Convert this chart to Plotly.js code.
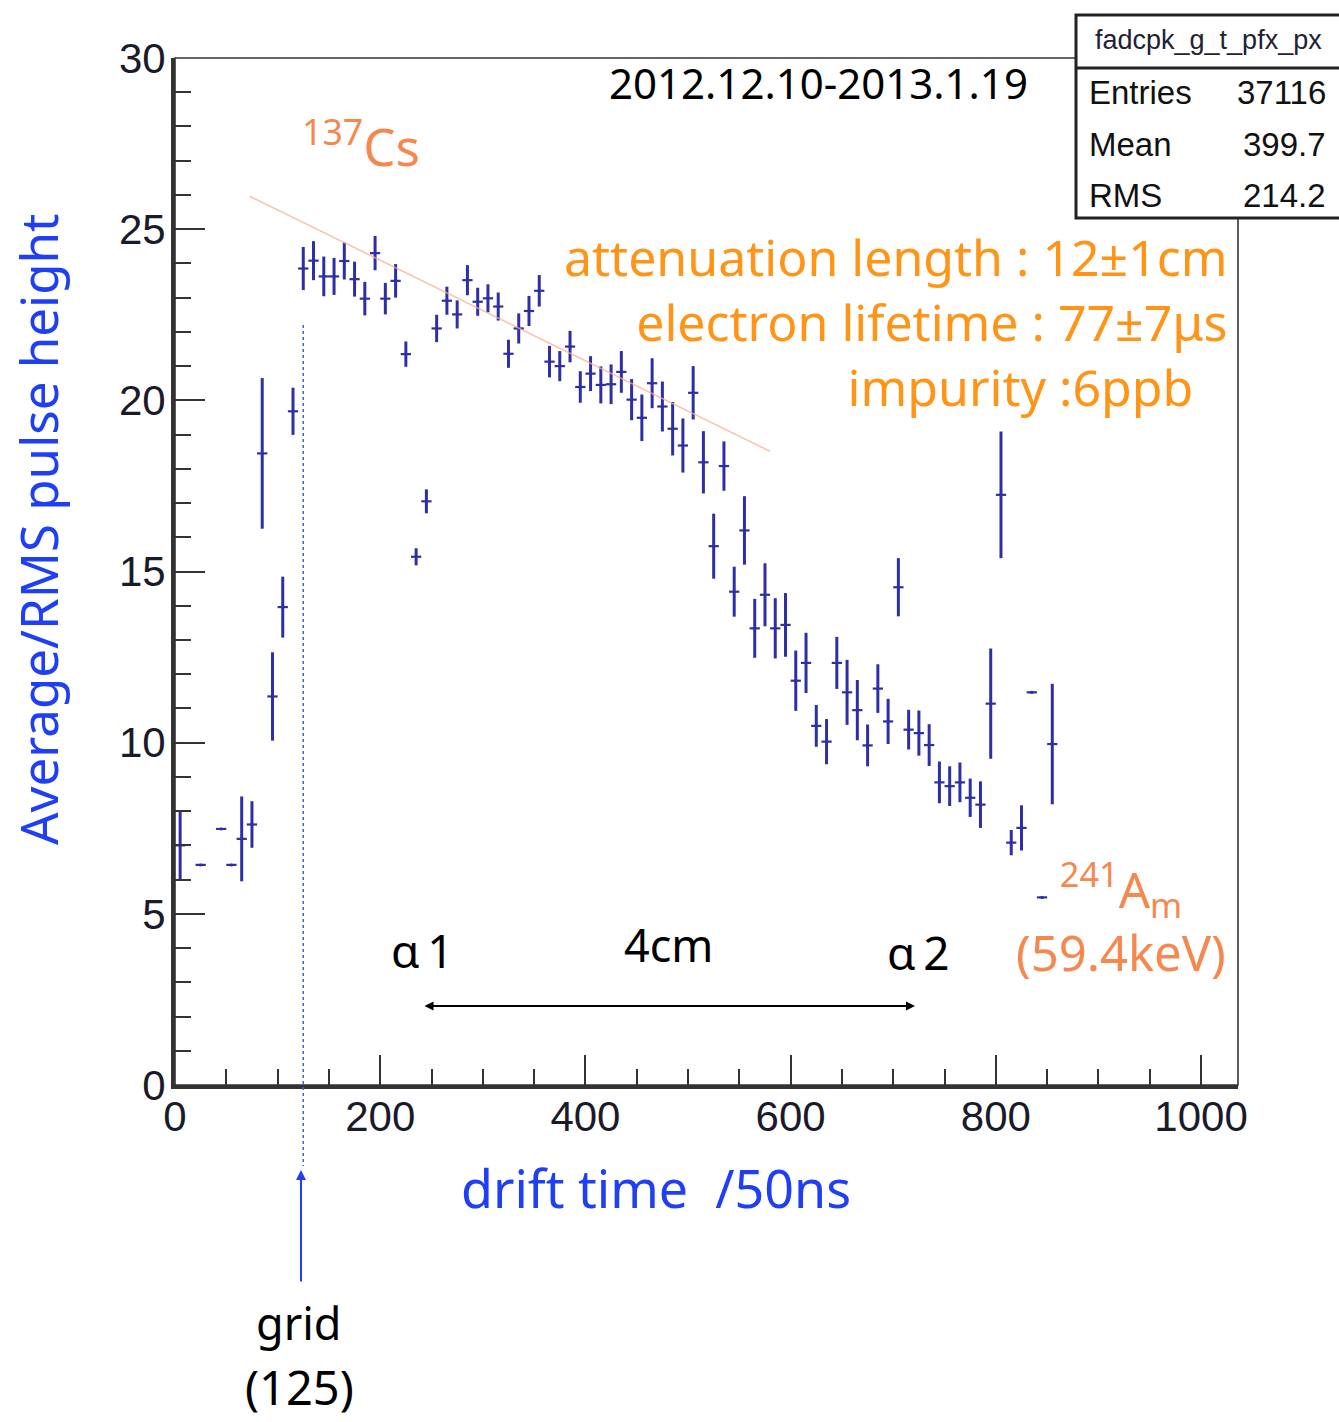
<!DOCTYPE html>
<html>
<head>
<meta charset="utf-8">
<script src="https://cdn.plot.ly/plotly-3.0.1.min.js"></script>
<style>html,body{margin:0;padding:0;background:#fff;}#chart{width:1339px;height:1422px;}</style>
</head>
<body>
<div id="chart"></div>
<script>
// ---- data ----
const driftTime = [5,25,45,55,65,75,85,95,105,115,125,135,145,155,165,175,185,195,205,215,225,235,245,255,265,275,285,295,305,315,325,335,345,355,365,375,385,395,405,415,425,435,445,455,465,475,485,495,505,515,525,535,545,555,565,575,585,595,605,615,625,635,645,655,665,675,685,695,705,715,725,735,745,755,765,775,785,795,805,815,825,835,845,855];
const pulseHeight = [7.0,6.43,7.48,6.43,7.19,7.61,18.45,11.35,13.96,19.68,23.85,24.08,23.62,23.62,24.07,23.54,22.97,24.30,22.97,23.49,21.35,15.43,17.05,22.10,22.91,22.51,23.51,22.88,22.98,22.74,21.36,22.10,22.61,23.20,21.13,21.00,21.57,20.39,20.78,20.45,20.47,20.83,20.02,19.49,20.50,19.82,19.17,18.68,20.22,18.19,15.74,18.08,14.41,16.20,13.34,14.32,13.34,13.44,11.81,12.33,10.49,10.03,12.33,11.47,10.95,9.92,11.58,10.62,14.54,10.38,10.28,9.93,8.84,8.73,8.84,8.39,8.19,11.14,17.24,7.08,7.51,11.47,5.48,9.96];
const pulseError = [1.0,0.03,0.03,0.03,1.24,0.68,2.2,1.29,0.89,0.69,0.63,0.57,0.58,0.54,0.54,0.51,0.49,0.50,0.46,0.49,0.37,0.25,0.35,0.40,0.41,0.41,0.44,0.41,0.41,0.41,0.41,0.44,0.44,0.46,0.46,0.44,0.46,0.46,0.51,0.54,0.58,0.61,0.60,0.68,0.73,0.73,0.78,0.79,0.78,0.91,0.95,0.72,0.73,1.0,0.86,0.92,0.88,0.93,0.88,0.88,0.61,0.66,0.76,0.95,0.88,0.61,0.71,0.66,0.85,0.58,0.66,0.61,0.61,0.58,0.58,0.56,0.68,1.61,1.85,0.37,0.66,0.03,0.03,1.76];
const binHalfWidth = 5;
const fitX = [73, 580];
const fitY = [25.96, 18.51];
const gridPosition = 125;
const statLabels = ["Entries", "Mean", "RMS"];
const statValues = ["37116", "399.7", "214.2"];
const histName = "fadcpk_g_t_pfx_px";

// ---- geometry helpers (pixel -> paper) ----
const L = 175, R = 1238, T = 58, B = 1085;
const px = x => (x - L) / (R - L);
const py = y => (B - y) / (B - T);

const dark = '#2e2ea6';
const orange = '#ff9416';
const coral = '#f5884e';
const blue = '#1f3ff5';
const sans = '"Noto Sans", "Open Sans", sans-serif';
const helv = '"Liberation Sans", Arial, sans-serif';

const traces = [
  {
    type: 'scatter', mode: 'markers',
    x: driftTime, y: pulseHeight,
    marker: {color: dark, size: 3},
    error_y: {type: 'data', array: pulseError, visible: true, color: dark, thickness: 3, width: 0},
    error_x: {type: 'constant', value: binHalfWidth, visible: true, color: dark, thickness: 2.2, width: 0},
    hoverinfo: 'x+y', showlegend: false
  },
  {
    type: 'scatter', mode: 'lines', x: fitX, y: fitY,
    line: {color: 'rgba(246,176,146,0.75)', width: 1.6},
    hoverinfo: 'skip', showlegend: false
  }
];

const annotations = [];
function txt(text, x, y, opt) {
  annotations.push(Object.assign({
    xref: 'paper', yref: 'paper', x: px(x), y: py(y), text: text,
    showarrow: false, xanchor: 'center', yanchor: 'middle',
    font: {family: sans, size: 46, color: '#000'}
  }, opt || {}));
}
txt('2012.12.10-2013.1.19', 818, 82, {font: {family: sans, size: 42, color: '#000'}});
txt('<sup>137</sup>Cs', 300, 144, {xanchor: 'left', font: {family: sans, size: 51, color: coral}});
txt('attenuation length : 12±1cm<br>electron lifetime : 77±7μs<br>impurity :6ppb\u00a0\u00a0\u2009', 1230, 322,
    {xanchor: 'right', align: 'right', font: {family: sans, size: 50, color: orange}});
txt('α\u20091', 422, 950, {font: {family: sans, size: 46, color: '#000'}});
txt('4cm', 668, 944, {font: {family: sans, size: 45, color: '#000'}});
txt('α\u20092', 918, 952, {font: {family: sans, size: 46, color: '#000'}});
txt('<sup>241</sup>A<sub>m</sub><br>(59.4keV)', 1121, 917, {align: 'center', font: {family: sans, size: 49, color: coral}});
txt('grid', 299, 1322, {font: {family: sans, size: 45, color: '#000'}});
txt('(125)', 299, 1387, {font: {family: sans, size: 47, color: '#000'}});
txt('Average/RMS pulse height', 38, 530, {textangle: -90, font: {family: sans, size: 51, color: blue}});
txt('drift time\u00a0 /50ns', 656, 1187, {font: {family: sans, size: 52, color: blue}});
// stat box texts
txt(histName, 1208, 40, {font: {family: helv, size: 27, color: '#223'}});
const statY = [92, 145, 195];
statLabels.forEach((s, i) => {
  txt(s, 1087, statY[i], {xanchor: 'left', font: {family: helv, size: 33, color: '#111'}});
  txt(statValues[i], 1328, statY[i], {xanchor: 'right', font: {family: helv, size: 33, color: '#111'}});
});
// 4cm double arrow
annotations.push({xref: 'paper', yref: 'paper', x: px(915), y: py(1006), ax: -492, ay: 0,
  text: '', showarrow: true, arrowhead: 2, arrowside: 'end+start', arrowsize: 1, arrowwidth: 1.8, arrowcolor: '#000'});
// grid arrow
annotations.push({xref: 'paper', yref: 'paper', x: px(301), y: py(1170), ax: 0, ay: 113,
  text: '', showarrow: true, arrowhead: 2, arrowsize: 1, arrowwidth: 2, arrowcolor: blue});

const shapes = [
  {type: 'rect', xref: 'paper', yref: 'paper', x0: 0, x1: 1, y0: 0, y1: 1, line: {color: '#333', width: 1.6}, layer: 'above'},
  {type: 'line', xref: 'x', yref: 'paper', x0: gridPosition, x1: gridPosition, y0: py(325), y1: py(1166),
   line: {color: '#3a5cff', width: 1.5, dash: 'dot'}, layer: 'above'},
  {type: 'rect', xref: 'paper', yref: 'paper', x0: px(1076), x1: px(1350), y0: py(218), y1: py(15),
   fillcolor: '#fff', line: {color: '#222', width: 3}, layer: 'above'},
  {type: 'line', xref: 'paper', yref: 'paper', x0: px(1076), x1: px(1350), y0: py(68), y1: py(68),
   line: {color: '#222', width: 3}, layer: 'above'}
];

const layout = {
  width: 1339, height: 1422,
  margin: {l: L, r: 1339 - R, t: T, b: 1422 - B, pad: 0},
  paper_bgcolor: '#fff', plot_bgcolor: '#fff',
  showlegend: false,
  xaxis: {
    range: [0, 1036], tickmode: 'linear', tick0: 0, dtick: 200,
    ticks: 'inside', ticklen: 30, tickwidth: 2, tickcolor: '#333',
    minor: {ticks: 'inside', ticklen: 16, tickwidth: 2, tickcolor: '#333', dtick: 50, showgrid: false},
    showgrid: false, zeroline: false, showline: true, linewidth: 4, linecolor: '#333',
    ticklabelstandoff: -8,
    tickfont: {family: helv, size: 42, color: '#1a1a2a'}
  },
  yaxis: {
    range: [0, 30], tickmode: 'linear', tick0: 0, dtick: 5,
    ticks: 'inside', ticklen: 30, tickwidth: 2, tickcolor: '#333',
    minor: {ticks: 'inside', ticklen: 16, tickwidth: 2, tickcolor: '#333', dtick: 1, showgrid: false},
    showgrid: false, zeroline: false, showline: true, linewidth: 4, linecolor: '#333',
    ticklabelstandoff: -3,
    tickfont: {family: helv, size: 42, color: '#1a1a2a'}
  },
  annotations: annotations,
  shapes: shapes
};

Plotly.newPlot('chart', traces, layout, {displayModeBar: false, staticPlot: true});
</script>
</body>
</html>
